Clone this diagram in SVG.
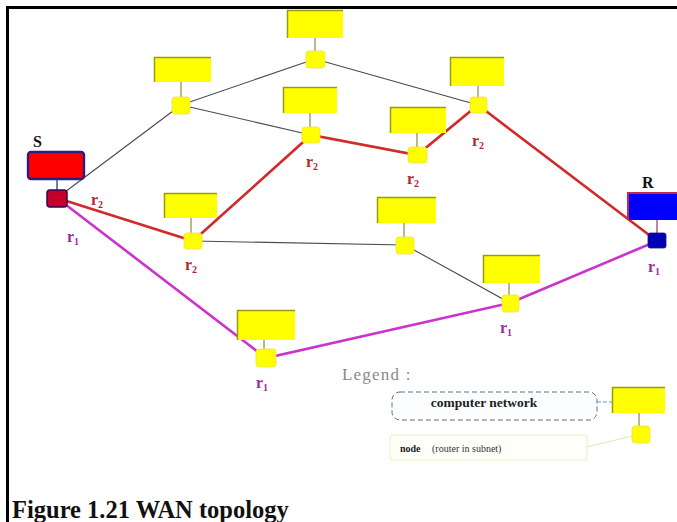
<svg xmlns="http://www.w3.org/2000/svg" width="677" height="522" viewBox="0 0 677 522">
  <style>
    .box { fill: #ffff00; }
    .rim { fill: none; stroke: #9a9a10; stroke-width: 1.5; }
    .stem { stroke: #8a8a40; stroke-width: 1.2; }
    .router { fill: #ffff00; stroke: #f0e040; stroke-width: 0.8; }
    .gray { stroke: #4a4a50; stroke-width: 1.1; fill: none; }
    .red { stroke: #d22a2a; stroke-width: 2.6; fill: none; stroke-linecap: round; }
    .mag { stroke: #cc33cc; stroke-width: 2.6; fill: none; stroke-linecap: round; }
    .lbl { font-family: "Liberation Serif", "Times New Roman", serif; font-size: 16px; font-weight: bold; }
    .r2 { fill: #b02a2a; }
    .r1 { fill: #a02a9a; }
    .sub { font-size: 10px; }
    .end { font-family: "Liberation Serif", serif; font-size: 16px; font-weight: bold; fill: #111; }
  </style>

  <rect x="0" y="0" width="677" height="522" fill="#ffffff"/>

  <!-- frame -->
  <g id="frame" stroke="#000" stroke-width="3">
    <line x1="7" y1="7.5" x2="677" y2="7.5"/>
    <line x1="7.5" y1="6" x2="7.5" y2="522"/>
  </g>

  <!-- links between routers -->
  <g id="connectors">
    <line class="gray" x1="57" y1="198" x2="181" y2="105"/>
    <line class="gray" x1="181" y1="105" x2="315" y2="59"/>
    <line class="gray" x1="315" y1="59" x2="478" y2="105"/>
    <line class="gray" x1="181" y1="105" x2="311" y2="135"/>
    <line class="gray" x1="193" y1="241" x2="405" y2="245"/>
    <line class="gray" x1="405" y1="245" x2="510" y2="303"/>

    <polyline class="red" points="57,198 193,241 311,135 417,155 478,105 657,241"/>
    <polyline class="mag" points="57,198 266,358 510,303 657,241"/>
  </g>

  <!-- source host S -->
  <g id="S">
    <text class="end" x="33" y="147">S</text>
    <rect x="28" y="152" width="56" height="27" rx="3" fill="#ff0000" stroke="#2c1c86" stroke-width="2.4"/>
    <line x1="57" y1="180" x2="57" y2="190" stroke="#4060b0" stroke-width="1.6"/>
    <rect x="47" y="190" width="20" height="17" rx="3" fill="#c40028" stroke="#3a0050" stroke-width="1.5"/>
  </g>

  <!-- receiver host R -->
  <g id="R">
    <text class="end" x="642" y="188">R</text>
    <rect x="628" y="193" width="54" height="27" fill="#0000ff"/>
    <path d="M628,220 V193 H680" fill="none" stroke="#c02a4a" stroke-width="2"/>
    <line x1="657" y1="220" x2="657" y2="233" stroke="#b05070" stroke-width="1.4"/>
    <rect x="648" y="233" width="18" height="15" rx="2" fill="#0000b8" stroke="#1a1a70" stroke-width="0.8"/>
  </g>

  <!-- subnet nodes: network box + router -->
  <g id="n1">
    <rect class="box" x="287" y="10" width="56" height="28"/>
    <path class="rim" d="M287.5,38 V10.5 H343"/>
    <line class="stem" x1="315" y1="38" x2="315" y2="51"/>
    <rect class="router" x="306" y="51" width="19" height="17" rx="3"/>
  </g>
  <g id="n2">
    <rect class="box" x="154" y="57" width="57" height="25"/>
    <path class="rim" d="M154.5,82 V57.5 H211"/>
    <line class="stem" x1="181" y1="82" x2="181" y2="97"/>
    <rect class="router" x="172" y="97" width="18" height="17" rx="3"/>
  </g>
  <g id="n3">
    <rect class="box" x="283" y="87" width="54" height="26"/>
    <path class="rim" d="M283.5,113 V87.5 H337"/>
    <line class="stem" x1="310" y1="113" x2="310" y2="127"/>
    <rect class="router" x="302" y="127" width="18" height="16" rx="3"/>
  </g>
  <g id="n4">
    <rect class="box" x="164" y="193" width="53" height="25"/>
    <path class="rim" d="M164.5,218 V193.5 H217"/>
    <line class="stem" x1="191" y1="218" x2="191" y2="233"/>
    <rect class="router" x="184" y="233" width="18" height="16" rx="3"/>
  </g>
  <g id="n5">
    <rect class="box" x="390" y="107" width="56" height="26"/>
    <path class="rim" d="M390.5,133 V107.5 H446"/>
    <line class="stem" x1="417" y1="133" x2="417" y2="147"/>
    <rect class="router" x="408" y="147" width="19" height="16" rx="3"/>
  </g>
  <g id="n6">
    <rect class="box" x="450" y="57" width="54" height="29"/>
    <path class="rim" d="M450.5,86 V57.5 H504"/>
    <line class="stem" x1="478" y1="86" x2="478" y2="97"/>
    <rect class="router" x="470" y="97" width="17" height="16" rx="3"/>
  </g>
  <g id="n7">
    <rect class="box" x="377" y="197" width="59" height="26"/>
    <path class="rim" d="M377.5,223 V197.5 H436"/>
    <line class="stem" x1="404" y1="223" x2="404" y2="237"/>
    <rect class="router" x="396" y="237" width="18" height="17" rx="3"/>
  </g>
  <g id="n8">
    <rect class="box" x="483" y="255" width="57" height="28"/>
    <path class="rim" d="M483.5,283 V255.5 H540"/>
    <line class="stem" x1="509" y1="283" x2="509" y2="295"/>
    <rect class="router" x="502" y="295" width="17" height="17" rx="3"/>
  </g>
  <g id="n9">
    <rect class="box" x="237" y="310" width="58" height="30"/>
    <path class="rim" d="M237.5,340 V310.5 H295"/>
    <line class="stem" x1="264" y1="340" x2="264" y2="349"/>
    <rect class="router" x="256" y="349" width="20" height="18" rx="3"/>
  </g>

  <!-- route labels -->
  <g id="labels" class="lbl">
    <text class="r2" x="91" y="205">r<tspan class="sub" dy="3">2</tspan></text>
    <text class="r2" x="185" y="270">r<tspan class="sub" dy="3">2</tspan></text>
    <text class="r2" x="306" y="167">r<tspan class="sub" dy="3">2</tspan></text>
    <text class="r2" x="407" y="184">r<tspan class="sub" dy="3">2</tspan></text>
    <text class="r2" x="472" y="146">r<tspan class="sub" dy="3">2</tspan></text>
    <text class="r1" x="67" y="242">r<tspan class="sub" dy="3">1</tspan></text>
    <text class="r1" x="256" y="388">r<tspan class="sub" dy="3">1</tspan></text>
    <text class="r1" x="500" y="333">r<tspan class="sub" dy="3">1</tspan></text>
    <text class="r1" x="648" y="272">r<tspan class="sub" dy="3">1</tspan></text>
  </g>

  <!-- legend -->
  <g id="legend">
    <text x="342" y="380" font-family="Liberation Serif, serif" font-size="17" letter-spacing="1.2" fill="#8a8a8a">Legend :</text>
    <rect x="392" y="392" width="205" height="28" rx="8" fill="#fbfdff" stroke="#5a7488" stroke-width="1" stroke-dasharray="5 3"/>
    <text x="484" y="407" text-anchor="middle" font-family="Liberation Serif, serif" font-size="13.5" font-weight="bold" fill="#222">computer network</text>
    <line x1="597" y1="402" x2="614" y2="402" stroke="#5aa0d0" stroke-width="1.2" stroke-dasharray="4 2"/>
    <rect x="390" y="435" width="197" height="25" rx="3" fill="#fffffa" stroke="#f0f0c8" stroke-width="1.2"/>
    <text x="400" y="452" font-family="Liberation Serif, serif" font-size="10" font-weight="bold" fill="#222">node</text>
    <text x="432" y="452" font-family="Liberation Serif, serif" font-size="10" fill="#333">(router in subnet)</text>
    <line x1="587" y1="447" x2="632" y2="436" stroke="#e6e6b0" stroke-width="1.2"/>
  </g>
  <g id="legend-node">
    <rect class="box" x="612" y="387" width="53" height="26"/>
    <path class="rim" d="M612.5,413 V387.5 H665"/>
    <line class="stem" x1="639" y1="413" x2="639" y2="426"/>
    <rect class="router" x="632" y="426" width="18" height="17" rx="3"/>
  </g>

  <!-- caption -->
  <text id="caption" x="12" y="518" font-family="Liberation Serif, 'Times New Roman', serif" font-size="24.5" font-weight="bold" fill="#111">Figure 1.21 WAN topology</text>
</svg>
